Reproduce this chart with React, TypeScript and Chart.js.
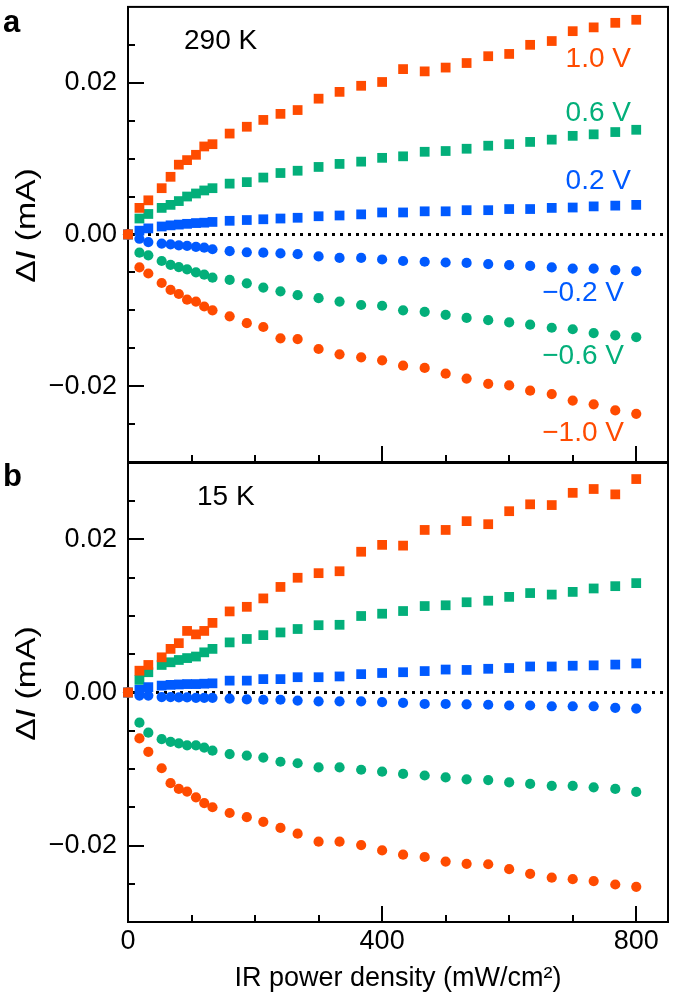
import React, { useEffect, useRef } from 'react';
import { Chart, registerables } from 'chart.js';

Chart.register(...registerables);

// ---------- data ----------
const power = [0, 18, 32, 53, 67, 80, 93, 107, 120, 133, 160, 187, 213, 240, 267, 300, 333, 367, 400, 433, 467, 500, 533, 567, 600, 633, 667, 700, 733, 767, 800];

// Panel a, 290 K (mA)
const a_pos10 = [0, 0.0035, 0.0045, 0.0061, 0.0076, 0.0092, 0.0098, 0.0105, 0.0116, 0.0119, 0.0133, 0.0142, 0.0151, 0.0159, 0.0164, 0.0179, 0.0188, 0.0196, 0.0201, 0.0218, 0.0215, 0.022, 0.0226, 0.0235, 0.0238, 0.025, 0.0255, 0.0268, 0.0273, 0.0279, 0.0283];
const a_pos06 = [0, 0.0021, 0.0027, 0.0035, 0.0039, 0.0044, 0.005, 0.0054, 0.0058, 0.0061, 0.0067, 0.0069, 0.0075, 0.0081, 0.0084, 0.0089, 0.0093, 0.0096, 0.0101, 0.0103, 0.0109, 0.011, 0.0113, 0.0117, 0.0119, 0.0122, 0.0125, 0.013, 0.0132, 0.0135, 0.0138];
const a_pos02 = [0, 0.0005, 0.0008, 0.00105, 0.0012, 0.0013, 0.0014, 0.0015, 0.00155, 0.00165, 0.0018, 0.0019, 0.002, 0.0021, 0.0022, 0.0024, 0.0025, 0.00265, 0.0029, 0.0029, 0.00305, 0.00305, 0.0032, 0.0032, 0.00335, 0.00335, 0.0035, 0.00355, 0.0037, 0.0038, 0.0039];
const a_neg02 = [0, -0.00057, -0.001, -0.0012, -0.0013, -0.00145, -0.0015, -0.00165, -0.00175, -0.00195, -0.0022, -0.00235, -0.0024, -0.0025, -0.0026, -0.0029, -0.0031, -0.0031, -0.0033, -0.0035, -0.0036, -0.0037, -0.00375, -0.0039, -0.00405, -0.00415, -0.00435, -0.0045, -0.0045, -0.0047, -0.00485];
const a_neg06 = [0, -0.0024, -0.00275, -0.0035, -0.004, -0.0043, -0.0046, -0.005, -0.0053, -0.0057, -0.006, -0.00645, -0.007, -0.0075, -0.008, -0.0084, -0.00885, -0.0093, -0.0094, -0.01, -0.0102, -0.0106, -0.011, -0.0113, -0.0116, -0.0119, -0.0123, -0.0125, -0.013, -0.0133, -0.01355];
const a_neg10 = [0, -0.00435, -0.00515, -0.0064, -0.0073, -0.00785, -0.0086, -0.00885, -0.0095, -0.01, -0.0108, -0.0117, -0.0122, -0.0137, -0.0138, -0.0151, -0.0158, -0.0162, -0.0166, -0.0173, -0.0176, -0.01835, -0.019, -0.0197, -0.0199, -0.0206, -0.02105, -0.0219, -0.0224, -0.0232, -0.02365];

// Panel b, 15 K (mA)
const b_pos10 = [0, 0.00285, 0.0036, 0.0046, 0.0057, 0.00645, 0.00805, 0.0076, 0.00805, 0.0091, 0.0106, 0.0112, 0.0123, 0.0138, 0.015, 0.0156, 0.01585, 0.0184, 0.0193, 0.0192, 0.02125, 0.02125, 0.0224, 0.022, 0.0237, 0.0246, 0.0245, 0.0261, 0.0266, 0.0259, 0.0279];
const b_pos06 = [0, 0.00165, 0.00265, 0.0036, 0.00395, 0.00425, 0.0045, 0.0047, 0.00525, 0.0057, 0.00655, 0.007, 0.0075, 0.00785, 0.0083, 0.0088, 0.00885, 0.01, 0.0103, 0.01065, 0.0113, 0.0114, 0.0118, 0.012, 0.0125, 0.013, 0.0128, 0.01315, 0.0136, 0.0139, 0.0143];
const b_pos02 = [0, 0.00035, 0.0007, 0.0009, 0.001, 0.00105, 0.0011, 0.0011, 0.00115, 0.0012, 0.00155, 0.00155, 0.00175, 0.00175, 0.002, 0.002, 0.0021, 0.0024, 0.00255, 0.00265, 0.0028, 0.003, 0.00295, 0.0031, 0.0032, 0.0034, 0.0034, 0.0035, 0.00355, 0.00365, 0.0038];
const b_neg02 = [0, -0.0004, -0.0004, -0.0006, -0.0006, -0.00065, -0.00065, -0.0007, -0.0007, -0.0007, -0.0008, -0.0009, -0.00095, -0.00095, -0.00105, -0.00115, -0.00115, -0.00115, -0.00125, -0.00135, -0.0015, -0.0015, -0.00155, -0.0016, -0.0017, -0.0017, -0.0018, -0.0018, -0.0018, -0.002, -0.0021];
const b_neg06 = [0, -0.00395, -0.00525, -0.0061, -0.00645, -0.00665, -0.0069, -0.0069, -0.0072, -0.0076, -0.00805, -0.00825, -0.0085, -0.00905, -0.00925, -0.0098, -0.0098, -0.0101, -0.01035, -0.01065, -0.01085, -0.0111, -0.01135, -0.01145, -0.01175, -0.01195, -0.0122, -0.0122, -0.0124, -0.0126, -0.013];
const b_neg10 = [0, -0.006, -0.00775, -0.0099, -0.01185, -0.0126, -0.01295, -0.0137, -0.01445, -0.015, -0.01575, -0.0163, -0.0169, -0.0177, -0.01845, -0.0195, -0.0195, -0.01995, -0.02065, -0.0212, -0.0215, -0.0221, -0.0224, -0.02245, -0.0231, -0.0237, -0.0242, -0.0244, -0.02465, -0.0251, -0.0254];

// ticks / labels
const xLabelValues = [0, 400, 800];
const yLabelValues = [-0.02, 0, 0.02];
const yLabelTexts = ['\u22120.02', '0.00', '0.02'];
const biasLabels = ['1.0 V', '0.6 V', '0.2 V', '\u22120.2 V', '\u22120.6 V', '\u22121.0 V'];
const panelLetters = ['a', 'b'];
const tempLabels = ['290 K', '15 K'];
const xTitle = 'IR power density (mW/cm\u00B2)';

// ---------- styling ----------
const ORANGE = '#FF4B00';
const GREEN = '#03AF7A';
const BLUE = '#005AFF';
const FONT = "'Liberation Sans', Arial, Helvetica, sans-serif";

const toPts = (ys: number[]) => ys.map((v, i) => ({ x: power[i], y: v }));

function makeSeries(p10: number[], p06: number[], p02: number[], n02: number[], n06: number[], n10: number[]) {
  // index 0 is drawn on top
  const list = [
    { d: p10, c: ORANGE, s: 'rect' },
    { d: n10, c: ORANGE, s: 'circle' },
    { d: p02, c: BLUE, s: 'rect' },
    { d: n02, c: BLUE, s: 'circle' },
    { d: p06, c: GREEN, s: 'rect' },
    { d: n06, c: GREEN, s: 'circle' },
  ];
  return list.map((o) => ({
    data: toPts(o.d),
    showLine: false,
    pointStyle: o.s,
    pointRadius: o.s === 'rect' ? 6.9 : 5.1,
    pointBackgroundColor: o.c,
    pointBorderWidth: 0,
    backgroundColor: o.c,
    borderColor: o.c,
    clip: false as any,
  }));
}

function drawText(ctx: CanvasRenderingContext2D, text: string, x: number, y: number, font: string, color: string, align: CanvasTextAlign, baseline: CanvasTextBaseline) {
  ctx.save();
  ctx.font = font;
  ctx.fillStyle = color;
  ctx.textAlign = align;
  ctx.textBaseline = baseline;
  ctx.fillText(text, x, y);
  ctx.restore();
}

const decorPlugin = {
  id: 'decor',
  beforeDatasetsDraw(chart: any) {
    const { ctx, chartArea: a, scales } = chart;
    const x = scales.x;
    const y = scales.y;
    ctx.save();
    // dotted zero line
    const y0 = y.getPixelForValue(0);
    ctx.strokeStyle = '#000';
    ctx.lineWidth = 3;
    ctx.setLineDash([3, 5]);
    ctx.beginPath();
    ctx.moveTo(a.left + 4, y0);
    ctx.lineTo(a.right, y0);
    ctx.stroke();
    ctx.setLineDash([]);
    // frame
    ctx.lineWidth = 2;
    ctx.strokeRect(a.left, a.top, a.right - a.left, a.bottom - a.top);
    // y ticks (inward)
    for (const t of y.ticks) {
      const v = t.value;
      if (v <= y.min + 1e-9 || v >= y.max - 1e-9) continue;
      const major = yLabelValues.some((m) => Math.abs(m - v) < 1e-9);
      const py = Math.round(y.getPixelForValue(v));
      ctx.beginPath();
      ctx.moveTo(a.left, py);
      ctx.lineTo(a.left + (major ? 16 : 7), py);
      ctx.stroke();
    }
    // x ticks (inward from bottom)
    for (const t of x.ticks) {
      const v = t.value;
      if (v <= x.min + 1e-9 || v >= x.max - 1e-9) continue;
      if (Math.abs(v % 100) > 1e-6) continue;
      const major = xLabelValues.some((m) => Math.abs(m - v) < 1e-6);
      const px = Math.round(x.getPixelForValue(v));
      ctx.beginPath();
      ctx.moveTo(px, a.bottom);
      ctx.lineTo(px, a.bottom - (major ? 16 : 7));
      ctx.stroke();
    }
    ctx.restore();
  },
  afterDraw(chart: any) {
    const { ctx, chartArea: a } = chart;
    const opts = chart.options.plugins.decor || {};
    const idx = opts.panel ?? 0;
    ctx.save();
    // panel letter
    drawText(ctx, panelLetters[idx], 3, a.top + (idx === 0 ? 25 : 23), `bold 31px ${FONT}`, '#000', 'left', 'alphabetic');
    // temperature
    drawText(ctx, tempLabels[idx], idx === 0 ? 184 : 197, a.top + 34, `28px ${FONT}`, '#000', 'left', 'middle');
    // y title: ΔI (mA) with italic I
    const cy = (a.top + a.bottom) / 2 - 9;
    ctx.translate(35, cy);
    ctx.rotate(-Math.PI / 2);
    ctx.scale(1.25, 1);
    const parts: [string, string][] = [
      ['\u0394', `27px ${FONT}`],
      ['I', `italic 27px ${FONT}`],
      [' (mA)', `27px ${FONT}`],
    ];
    let total = 0;
    for (const [t, f] of parts) { ctx.font = f; total += ctx.measureText(t).width; }
    let cx = -total / 2;
    ctx.fillStyle = '#000';
    ctx.textBaseline = 'alphabetic';
    ctx.textAlign = 'left';
    for (const [t, f] of parts) { ctx.font = f; ctx.fillText(t, cx, 0); cx += ctx.measureText(t).width; }
    ctx.restore();
    // bias annotations (panel a only)
    if (idx === 0) {
      const colors = [ORANGE, GREEN, BLUE, BLUE, GREEN, ORANGE];
      const ys = [59, 113, 181, 293, 356, 433];
      const xs = [631, 631, 631, 624, 624, 624];
      biasLabels.forEach((t, i) => {
        drawText(ctx, t, xs[i], ys[i], `28px ${FONT}`, colors[i], 'right', 'middle');
      });
    }
  },
};

function zeroPad(s: any) {
  s.paddingTop = 0;
  s.paddingBottom = 0;
  s.paddingLeft = 0;
  s.paddingRight = 0;
}

function makeConfig(panel: number, datasets: any[]): any {
  const showX = panel === 1;
  return {
    type: 'scatter',
    data: { datasets },
    options: {
      animation: false,
      responsive: false,
      events: [],
      layout: { padding: panel === 0 ? { left: 0, top: 4, right: 17, bottom: 8 } : { left: 0, top: 8, right: 17, bottom: 0 } },
      plugins: { legend: { display: false }, tooltip: { enabled: false }, decor: { panel } },
      scales: {
        x: {
          type: 'linear',
          min: 0,
          max: 850,
          ticks: {
            display: showX,
            stepSize: 100,
            includeBounds: false,
            autoSkip: false,
            maxRotation: 0,
            padding: 3,
            color: '#000',
            font: { family: FONT, size: 27 },
            callback: (v: number) => (xLabelValues.some((m) => Math.abs(m - v) < 1e-6) ? String(v) : ''),
          },
          grid: { display: false, drawTicks: false },
          border: { display: false },
          title: { display: showX, text: xTitle, color: '#000', font: { family: FONT, size: 27 }, padding: { top: 0, bottom: 2 } },
          afterFit: (s: any) => { s.height = showX ? 75 : 0; zeroPad(s); },
        },
        y: {
          type: 'linear',
          min: -0.03,
          max: 0.03,
          ticks: {
            stepSize: 0.005,
            autoSkip: false,
            padding: 11,
            color: '#000',
            font: { family: FONT, size: 27 },
            callback: (v: number) => {
              const k = yLabelValues.findIndex((m) => Math.abs(m - v) < 1e-9);
              return k >= 0 ? yLabelTexts[k] : '';
            },
          },
          grid: { display: false, drawTicks: false },
          border: { display: false },
          afterFit: (s: any) => { s.width = 128; zeroPad(s); },
        },
      },
    },
    plugins: [decorPlugin],
  };
}

export default function App() {
  const refA = useRef<HTMLCanvasElement>(null);
  const refB = useRef<HTMLCanvasElement>(null);

  useEffect(() => {
    const chartA = new Chart(refA.current as HTMLCanvasElement, makeConfig(0, makeSeries(a_pos10, a_pos06, a_pos02, a_neg02, a_neg06, a_neg10)));
    const chartB = new Chart(refB.current as HTMLCanvasElement, makeConfig(1, makeSeries(b_pos10, b_pos06, b_pos02, b_neg02, b_neg06, b_neg10)));
    return () => {
      chartA.destroy();
      chartB.destroy();
    };
  }, []);

  return (
    <div style={{ position: 'absolute', left: 0, top: 0, width: 685, height: 997, background: '#fff' }}>
      <canvas ref={refA} width={685} height={470} style={{ position: 'absolute', left: 0, top: 0, width: 685, height: 470 }} />
      <canvas ref={refB} width={685} height={542} style={{ position: 'absolute', left: 0, top: 455, width: 685, height: 542 }} />
    </div>
  );
}
